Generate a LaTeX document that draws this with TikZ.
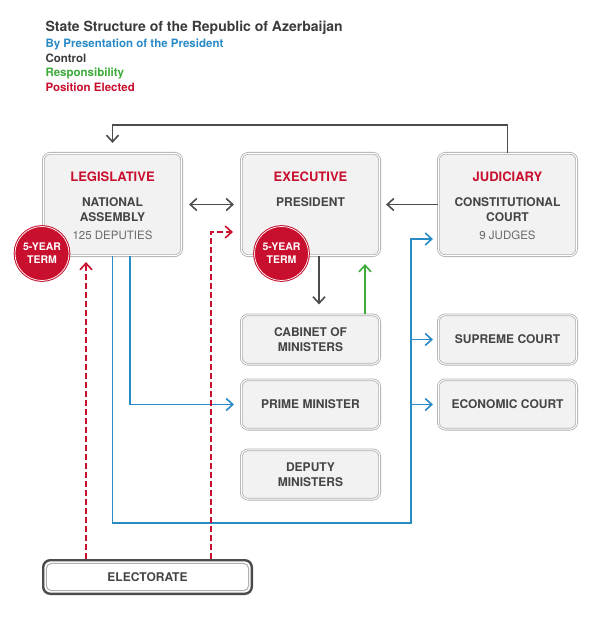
\documentclass[tikz,border=0pt]{standalone}
\usepackage{fontspec}
\setmainfont{TeX Gyre Heros}
\usetikzlibrary{arrows.meta}
\definecolor{govred}{HTML}{C8102E}
\definecolor{presblue}{HTML}{2A8AC6}
\definecolor{respgreen}{HTML}{3DAA3A}
\definecolor{ctrlgray}{HTML}{4C4C4C}
\definecolor{textgray}{HTML}{454545}
\definecolor{countgray}{HTML}{6A6A6A}
\definecolor{boxfill}{HTML}{F2F2F2}
\definecolor{boxline}{HTML}{B0B0B0}
\tikzset{
   branch/.style={rectangle, rounded corners=7pt, fill=boxfill, draw=boxline, double=white, double distance=1pt, line width=0.8pt, minimum width=138.4pt, minimum height=102.4pt, inner sep=0pt},
   office/.style={branch, minimum height=49.4pt, font=\bfseries\fontsize{12}{14.5}\selectfont, text=textgray, align=center},
   electbox/.style={rectangle, rounded corners=7pt, fill=white, draw=ctrlgray, line width=2.4pt, minimum width=208.6pt, minimum height=33.6pt, inner sep=0pt, font=\bfseries\fontsize{12}{14.5}\selectfont, text=textgray,
      path picture={\draw[boxline, line width=1pt, rounded corners=5pt] ([shift={(3.2pt,-3.2pt)}]path picture bounding box.north west) rectangle ([shift={(-3.2pt,3.2pt)}]path picture bounding box.south east);}},
   term/.style={circle, fill=govred, draw=govred, double=white, double distance=0.7pt, line width=1pt, minimum size=54pt, inner sep=0pt, text=white, font=\bfseries\fontsize{10.5}{13}\selectfont, align=center},
   head/.style={anchor=base, text=govred, font=\bfseries\fontsize{13}{15}\selectfont},
   body/.style={anchor=base, text=textgray, font=\bfseries\fontsize{12}{14}\selectfont},
   count/.style={anchor=base, text=countgray, font=\fontsize{11.5}{14}\selectfont},
   legend/.style={anchor=base west, font=\bfseries\fontsize{11.5}{14}\selectfont},
   ctrl/.style={draw=ctrlgray, line width=1.6pt},
   pres/.style={draw=presblue, line width=1.6pt},
   resp/.style={draw=respgreen, line width=1.6pt},
   elect/.style={draw=govred, line width=1.6pt, dash pattern=on 6pt off 3pt},
   >={Straight Barb[length=6.5pt,width=12pt]}
}
\begin{document}
\begin{tikzpicture}[x=1pt,y=-1pt]
   \useasboundingbox (0,0) rectangle (600,617);
   \node[legend, text=textgray!85!black, font=\bfseries\fontsize{14}{16}\selectfont](title) at (42,32) {State Structure of the Republic of Azerbaijan};
   \node[legend, text=presblue](keypres) at (42,48) {By Presentation of the President};
   \node[legend, text=textgray!85!black](keyctrl) at (42,63) {Control};
   \node[legend, text=respgreen](keyresp) at (42,77) {Responsibility};
   \node[legend, text=govred](keyelect) at (42,92) {Position Elected};

   \node[branch](legis) at (112.5,204.5) {};
   \node[branch](exec) at (310.5,204.5) {};
   \node[branch](judic) at (507.5,204.5) {};
   \node[office](cabinet) at (310.5,339.5) {CABINET OF\\MINISTERS};
   \node[office](prime) at (310.5,404.5) {PRIME MINISTER};
   \node[office](deputy) at (310.5,474.5) {DEPUTY\\MINISTERS};
   \node[office](supreme) at (507.5,339.5) {SUPREME COURT};
   \node[office](economic) at (507.5,404.5) {ECONOMIC COURT};
   \node[electbox](voters) at (147.5,577) {ELECTORATE};

   \node[head](legishead) at (112.5,182) {LEGISLATIVE};
   \node[body](legisname) at (112.5,207) {NATIONAL};
   \node[body](legisname2) at (112.5,222) {ASSEMBLY};
   \node[count](legiscount) at (112.5,240) {125 DEPUTIES};
   \node[head](exechead) at (310.5,182) {EXECUTIVE};
   \node[body](execname) at (310.5,207) {PRESIDENT};
   \node[head](judichead) at (507.5,182) {JUDICIARY};
   \node[body](judicname) at (507.5,207) {CONSTITUTIONAL};
   \node[body](judicname2) at (507.5,222) {COURT};
   \node[count](judiccount) at (507.5,240) {9 JUDGES};
   \node[term](legisterm) at (42,253.5) {5-YEAR\\TERM};
   \node[term](execterm) at (281.5,253.5) {5-YEAR\\TERM};

   \coordinate (topbend) at (112.5,125);
   \coordinate (blueturn) at (411,523);
   \draw[ctrl,->,shorten >=10pt](judic.north) |- (topbend) -- (legis.north);
   \draw[ctrl,<->,shorten <=7pt,shorten >=7pt](legis.east) -- (exec.west);
   \draw[ctrl,->,shorten >=6pt](judic.west) -- (exec.east);
   \draw[ctrl,->,shorten >=10pt]([xshift=8.5pt]exec.south) -- ([xshift=8.5pt]cabinet.north);
   \draw[resp,->,shorten >=8pt]([xshift=54.5pt]cabinet.north) -- ([xshift=54.5pt]exec.south);
   \draw[pres,->,shorten >=5pt](legis.south) |- (blueturn) |- ([yshift=-34.5pt]judic.west);
   \draw[pres,->,shorten >=5pt](blueturn |- supreme.west) -- (supreme.west);
   \draw[pres,->,shorten >=5pt](blueturn |- economic.west) -- (economic.west);
   \draw[pres,->,shorten >=7pt]([xshift=17.5pt]legis.south) |- (prime.west);
   \draw[elect,->,shorten >=6pt]([xshift=-61.5pt]voters.north) -- ([xshift=-26.5pt]legis.south);
   \draw[elect,->,shorten >=8pt]([xshift=63.5pt]voters.north) |- ([yshift=-27.5pt]exec.west);
\end{tikzpicture}
\end{document}
